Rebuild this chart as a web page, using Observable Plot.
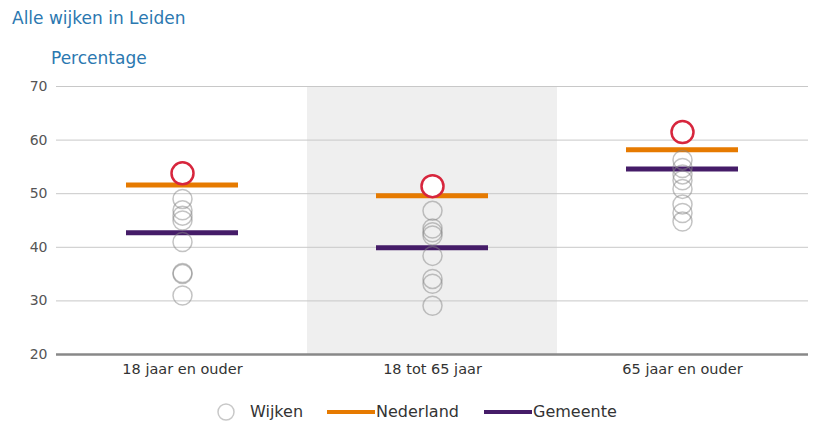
<!DOCTYPE html>
<html>
<head>
<meta charset="utf-8">
<script src="https://cdn.jsdelivr.net/npm/d3@7"></script>
<script src="https://cdn.jsdelivr.net/npm/@observablehq/plot@0.6"></script>
<style>
  body { margin: 0; background: #fff; font-family: "DejaVu Sans", sans-serif; }
  #wrap { position: relative; width: 819px; height: 433px; }
  #title { position: absolute; left: 12px; top: 8px; font-size: 17px; line-height: 20px; color: #2b78b0; }
  #ylabel { position: absolute; left: 51px; top: 48px; font-size: 17px; line-height: 20px; color: #2b78b0; }
  #chart { position: absolute; left: 0; top: 70px; }
  #legend { position: absolute; left: 0; top: 398px; width: 819px; height: 28px; font-size: 16px; color: #333; }
  .li { position: absolute; top: 0; line-height: 28px; }
  .sw { position: absolute; height: 4px; top: 12px; width: 48px; }
  #chart svg g[aria-label="y-axis tick label"] text { font-size: 14px; fill: #555; }
  #chart svg g[aria-label="x-axis tick label"] text { font-size: 14.5px; fill: #333; }
</style>
</head>
<body>
<div id="wrap">
  <div id="title">Alle wijken in Leiden</div>
  <div id="ylabel">Percentage</div>
  <div id="chart"></div>
  <div id="legend">
    <svg class="li" style="left:216px;top:4px" width="20" height="20"><circle cx="10" cy="10" r="8" fill="none" stroke="#c8c8c8" stroke-width="1.5"></circle></svg>
    <span class="li" style="left:250px">Wijken</span>
    <span class="sw" style="left:327px;background:#e67a00"></span>
    <span class="li" style="left:376px">Nederland</span>
    <span class="sw" style="left:484px;background:#451c68"></span>
    <span class="li" style="left:533px">Gemeente</span>
  </div>
</div>
<script>
const categories = ["18 jaar en ouder", "18 tot 65 jaar", "65 jaar en ouder"];
const yTicks = [20, 30, 40, 50, 60, 70];
// Wijken (districts) per category
const wijken18plus = [49.0, 46.9, 45.9, 45.0, 41.0, 35.2, 35.0, 31.0];
const wijken18to65 = [46.8, 43.5, 42.8, 42.2, 38.4, 34.1, 33.2, 29.1];
const wijken65plus = [56.3, 54.8, 53.6, 52.5, 50.9, 48.0, 46.4, 44.8];
// Highlighted district (red circle)
const highlight = [53.8, 51.4, 61.5];
// Reference lines
const nederland = [51.6, 49.6, 58.2];
const gemeente = [42.7, 39.9, 54.6];
// Shaded category
const shaded = ["18 tot 65 jaar"];

const wijkenAll = [wijken18plus, wijken18to65, wijken65plus];
const wijkData = wijkenAll.flatMap((arr, i) => arr.map(v => ({cat: categories[i], v})));
const hlData = highlight.map((v, i) => ({cat: categories[i], v}));
const nlData = nederland.map((v, i) => ({cat: categories[i], v}));
const gmData = gemeente.map((v, i) => ({cat: categories[i], v}));

const chart = Plot.plot({
  width: 819,
  height: 314,
  marginTop: 16,
  marginLeft: 56,
  marginRight: 11,
  marginBottom: 30,
  style: {fontFamily: "DejaVu Sans, sans-serif", fontSize: "14px", background: "transparent", color: "#444"},
  x: {type: "band", domain: categories, padding: 0, label: null, tickSize: 0, tickPadding: 9},
  y: {domain: [20, 70], ticks: yTicks, label: null, tickSize: 0, tickPadding: 9, tickFormat: d => d},
  marks: [
    Plot.barY(shaded, {x: d => d, y1: 20, y2: 70, fill: "#efefef"}),
    Plot.ruleY(yTicks.filter(t => t > 20), {stroke: "#c8c8c8", strokeWidth: 1}),
    Plot.ruleY([20], {stroke: "#888", strokeWidth: 2.5}),
    Plot.tickY(nlData, {x: "cat", y: "v", stroke: "#e67a00", strokeWidth: 5, inset: 69}),
    Plot.tickY(gmData, {x: "cat", y: "v", stroke: "#451c68", strokeWidth: 5, inset: 69}),
    Plot.dot(wijkData, {x: "cat", y: "v", r: 9.5, stroke: "#888", strokeOpacity: 0.5, strokeWidth: 1.5, fill: "none"}),
    Plot.dot(hlData, {x: "cat", y: "v", r: 11, stroke: "#d7263d", strokeWidth: 2.5, fill: "white"})
  ]
});
document.getElementById("chart").appendChild(chart);
</script>
</body>
</html>
